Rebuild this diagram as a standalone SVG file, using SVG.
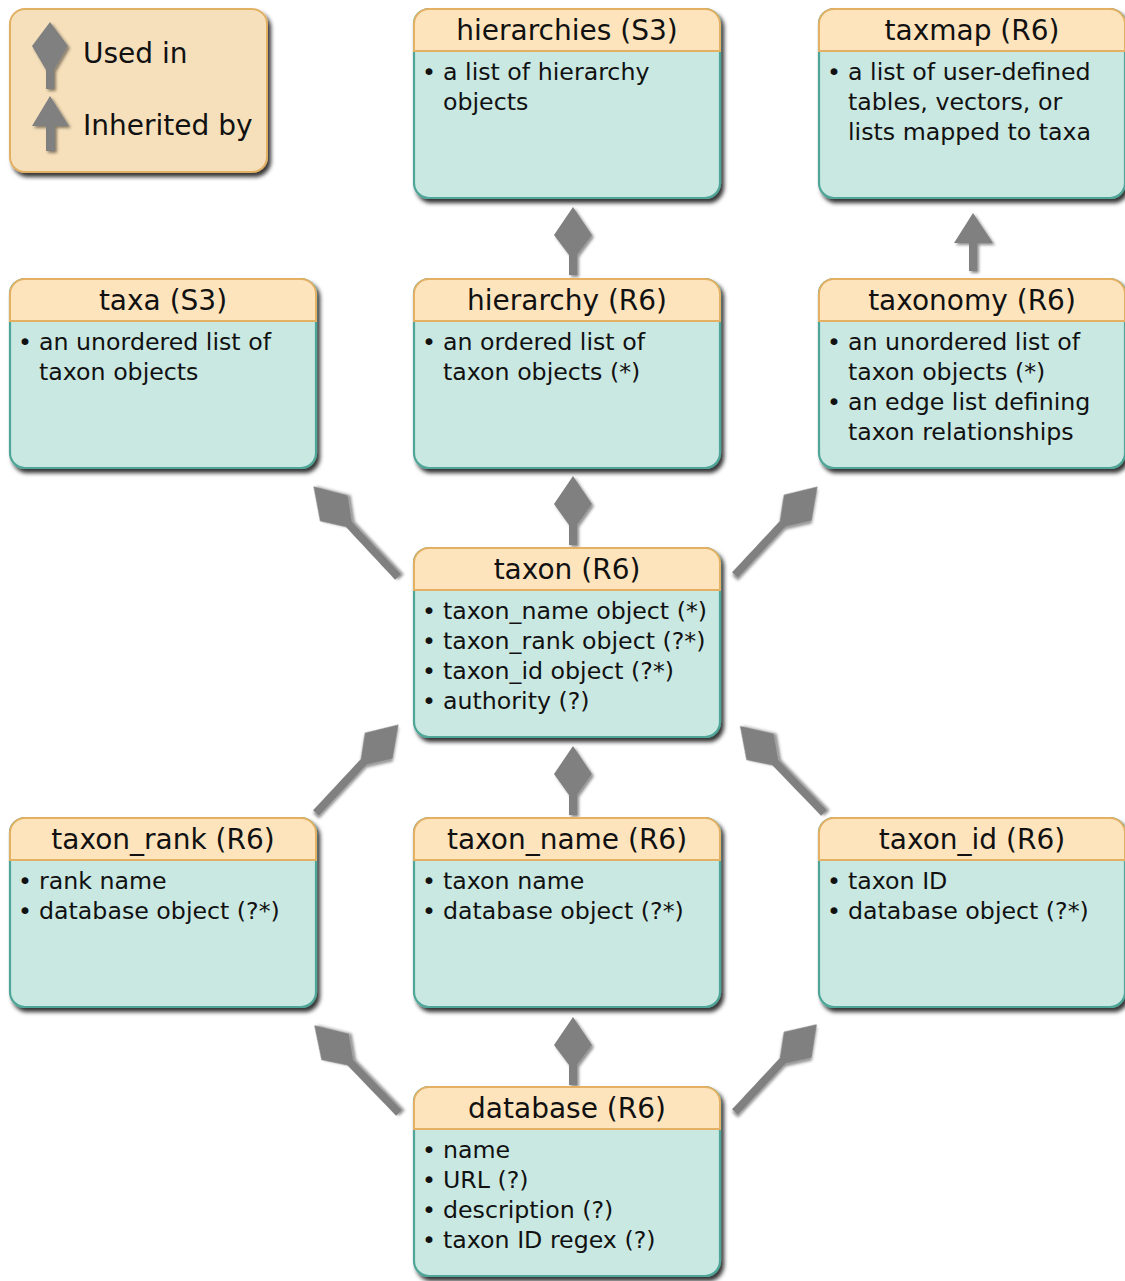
<svg xmlns="http://www.w3.org/2000/svg" width="1125" height="1281" viewBox="0 0 1125 1281">
<defs>
<filter id="sh" x="-10%" y="-10%" width="125%" height="130%">
<feDropShadow dx="3" dy="4" stdDeviation="2.2" flood-color="#000" flood-opacity="0.8"/>
</filter>
<filter id="csh" x="-30%" y="-30%" width="160%" height="160%">
<feDropShadow dx="2" dy="2" stdDeviation="1.5" flood-color="#000" flood-opacity="0.45"/>
</filter>
<path id="body" d="M0,15 A15,15 0 0 1 15,0 L291,0 A15,15 0 0 1 306,15 L306,174 A15,15 0 0 1 291,189 L15,189 A15,15 0 0 1 0,174 Z"/>
<path id="head" d="M0,42 L0,15 A15,15 0 0 1 15,0 L291,0 A15,15 0 0 1 306,15 L306,42 Z"/>
</defs>
<style>
.body{fill:#c9e8e2;stroke:#4fa597;stroke-width:2.2}
.head{fill:#fde4bd;stroke:#e4b063;stroke-width:2}
.ttl{font-family:"DejaVu Sans",sans-serif;font-size:28px;fill:#111;text-anchor:middle}
.txt{font-family:"DejaVu Sans",sans-serif;font-size:23.7px;fill:#111}
.con{fill:#808080;filter:url(#csh)}
.leg{font-family:"DejaVu Sans",sans-serif;font-size:28px;fill:#111}
</style>

<g id="legend">
<rect x="10" y="9" width="257" height="163" rx="15" fill="#f6e0bb" stroke="#e2b063" stroke-width="2" filter="url(#sh)"/>
<path class="con" d="M46,89 L46,70 L32,46 L50,22 L68,46 L54,70 L54,89 Z"/>
<path class="con" d="M46,151 L46,126 L32,126 L50,96 L69,126 L55,126 L55,151 Z"/>
<text class="leg" x="83" y="63">Used in</text>
<text class="leg" x="83" y="135">Inherited by</text>
</g>

<g id="connectors">
<path class="con" transform="translate(573,275)" d="M-4,0 L-4,-20 L-19,-40 L0,-68 L19,-40 L4,-20 L4,0 Z"/>
<path class="con" transform="translate(573,545)" d="M-4,0 L-4,-20 L-19,-41 L0,-69 L19,-41 L4,-20 L4,0 Z"/>
<path class="con" transform="translate(573,815)" d="M-4,0 L-4,-20 L-19,-41 L0,-69 L19,-41 L4,-20 L4,0 Z"/>
<path class="con" transform="translate(573,1085)" d="M-4,0 L-4,-20 L-19,-40 L0,-68 L19,-40 L4,-20 L4,0 Z"/>
<path class="con" transform="translate(398,577) rotate(-43)" d="M-4,0 L-4,-72 L-19,-94 L0,-124 L19,-94 L4,-72 L4,0 Z"/>
<path class="con" transform="translate(735,575) rotate(43)" d="M-4,0 L-4,-70 L-19,-92 L0,-121 L19,-92 L4,-70 L4,0 Z"/>
<path class="con" transform="translate(316,813) rotate(43)" d="M-4,0 L-4,-70 L-19,-92 L0,-121 L19,-92 L4,-70 L4,0 Z"/>
<path class="con" transform="translate(824,813) rotate(-44)" d="M-4,0 L-4,-70 L-19,-92 L0,-121 L19,-92 L4,-70 L4,0 Z"/>
<path class="con" transform="translate(399,1113) rotate(-44)" d="M-4,0 L-4,-70 L-19,-92 L0,-122 L19,-92 L4,-70 L4,0 Z"/>
<path class="con" transform="translate(735,1112) rotate(43)" d="M-4,0 L-4,-70 L-19,-92 L0,-120 L19,-92 L4,-70 L4,0 Z"/>
<path class="con" d="M969,271 L969,243 L954,243 L973,213 L993,243 L977,243 L977,271 Z"/>
</g>

<g id="hierarchies" transform="translate(414,9)">
<use href="#body" class="body" filter="url(#sh)"/><use href="#head" class="head"/>
<text class="ttl" x="153" y="31">hierarchies (S3)</text>
<text class="txt" x="8" y="71">•<tspan x="29">a list of hierarchy</tspan></text>
<text class="txt" x="29" y="101">objects</text>
</g>

<g id="taxmap" transform="translate(819,9)">
<use href="#body" class="body" filter="url(#sh)"/><use href="#head" class="head"/>
<text class="ttl" x="153" y="31">taxmap (R6)</text>
<text class="txt" x="8" y="71">•<tspan x="29">a list of user-defined</tspan></text>
<text class="txt" x="29" y="101">tables, vectors, or</text>
<text class="txt" x="29" y="131">lists mapped to taxa</text>
</g>

<g id="taxa" transform="translate(10,279)">
<use href="#body" class="body" filter="url(#sh)"/><use href="#head" class="head"/>
<text class="ttl" x="153" y="31">taxa (S3)</text>
<text class="txt" x="8" y="71">•<tspan x="29">an unordered list of</tspan></text>
<text class="txt" x="29" y="101">taxon objects</text>
</g>

<g id="hierarchy" transform="translate(414,279)">
<use href="#body" class="body" filter="url(#sh)"/><use href="#head" class="head"/>
<text class="ttl" x="153" y="31">hierarchy (R6)</text>
<text class="txt" x="8" y="71">•<tspan x="29">an ordered list of</tspan></text>
<text class="txt" x="29" y="101">taxon objects (*)</text>
</g>

<g id="taxonomy" transform="translate(819,279)">
<use href="#body" class="body" filter="url(#sh)"/><use href="#head" class="head"/>
<text class="ttl" x="153" y="31">taxonomy (R6)</text>
<text class="txt" x="8" y="71">•<tspan x="29">an unordered list of</tspan></text>
<text class="txt" x="29" y="101">taxon objects (*)</text>
<text class="txt" x="8" y="131">•<tspan x="29">an edge list defining</tspan></text>
<text class="txt" x="29" y="161">taxon relationships</text>
</g>

<g id="taxon" transform="translate(414,548)">
<use href="#body" class="body" filter="url(#sh)"/><use href="#head" class="head"/>
<text class="ttl" x="153" y="31">taxon (R6)</text>
<text class="txt" x="8" y="71">•<tspan x="29">taxon_name object (*)</tspan></text>
<text class="txt" x="8" y="101">•<tspan x="29">taxon_rank object (?*)</tspan></text>
<text class="txt" x="8" y="131">•<tspan x="29">taxon_id object (?*)</tspan></text>
<text class="txt" x="8" y="161">•<tspan x="29">authority (?)</tspan></text>
</g>

<g id="taxon_rank" transform="translate(10,818)">
<use href="#body" class="body" filter="url(#sh)"/><use href="#head" class="head"/>
<text class="ttl" x="153" y="31">taxon_rank (R6)</text>
<text class="txt" x="8" y="71">•<tspan x="29">rank name</tspan></text>
<text class="txt" x="8" y="101">•<tspan x="29">database object (?*)</tspan></text>
</g>

<g id="taxon_name" transform="translate(414,818)">
<use href="#body" class="body" filter="url(#sh)"/><use href="#head" class="head"/>
<text class="ttl" x="153" y="31">taxon_name (R6)</text>
<text class="txt" x="8" y="71">•<tspan x="29">taxon name</tspan></text>
<text class="txt" x="8" y="101">•<tspan x="29">database object (?*)</tspan></text>
</g>

<g id="taxon_id" transform="translate(819,818)">
<use href="#body" class="body" filter="url(#sh)"/><use href="#head" class="head"/>
<text class="ttl" x="153" y="31">taxon_id (R6)</text>
<text class="txt" x="8" y="71">•<tspan x="29">taxon ID</tspan></text>
<text class="txt" x="8" y="101">•<tspan x="29">database object (?*)</tspan></text>
</g>

<g id="database" transform="translate(414,1087)">
<use href="#body" class="body" filter="url(#sh)"/><use href="#head" class="head"/>
<text class="ttl" x="153" y="31">database (R6)</text>
<text class="txt" x="8" y="71">•<tspan x="29">name</tspan></text>
<text class="txt" x="8" y="101">•<tspan x="29">URL (?)</tspan></text>
<text class="txt" x="8" y="131">•<tspan x="29">description (?)</tspan></text>
<text class="txt" x="8" y="161">•<tspan x="29">taxon ID regex (?)</tspan></text>
</g>
</svg>
